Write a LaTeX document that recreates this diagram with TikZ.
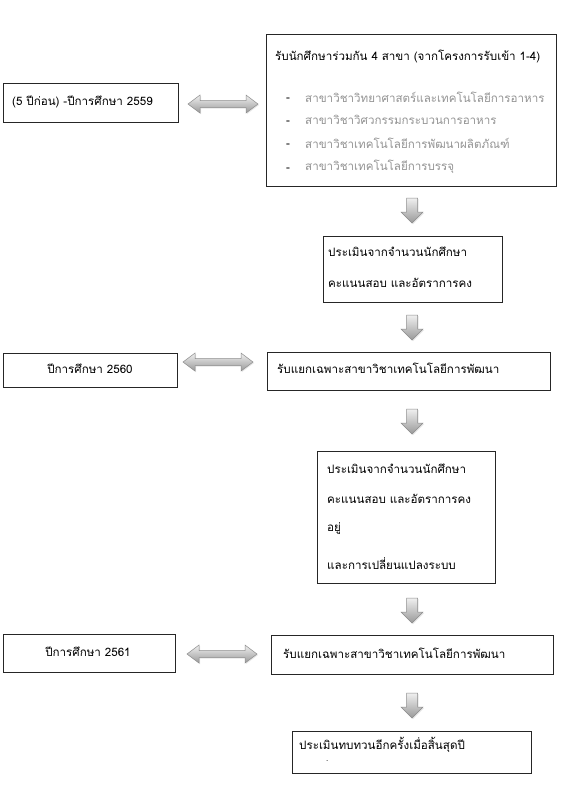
\documentclass[tikz,border=0pt]{standalone}
\usepackage{fontspec}
\newfontfamily\thai[Script=Thai]{Loma}
\usetikzlibrary{shadows}
\tikzset{
  box/.style={draw=black!85, line width=0.7pt, anchor=north west, inner sep=0pt},
  txt/.style={anchor=west, inner sep=0pt, font=\thai\fontsize{11.6}{14}\selectfont, text=black},
  item/.style={txt, text=black!42},
  dashtxt/.style={txt},
  blockarrow/.style={draw=black!45, line width=0.5pt, top color=black!6, bottom color=black!40,
     drop shadow={opacity=0.2, shadow xshift=1pt, shadow yshift=-1pt}},
  pics/downarr/.style={code={\path[blockarrow] (-5.5,0) -- (5.5,0) -- (5.5,14) -- (11,14) -- (0,25) -- (-11,14) -- (-5.5,14) -- cycle;}},
  pics/bothwayarr/.style={code={\path[blockarrow] (-35,0) -- (-23,-9) -- (-23,-3.5) -- (23,-3.5) -- (23,-9) -- (35,0) -- (23,9) -- (23,3.5) -- (-23,3.5) -- (-23,9) -- cycle;}}
}
\begin{document}
\begin{tikzpicture}[x=1pt,y=-1pt]
\useasboundingbox[fill=white] (0,0) rectangle (574,812);
% boxes
\node[box, minimum width=290, minimum height=152] (b1) at (266,34) {};
\node[box, minimum width=175, minimum height=39] (l1) at (3,83) {};
\node[box, minimum width=179, minimum height=66] (e1) at (323,236) {};
\node[box, minimum width=174, minimum height=34] (l2) at (3,353) {};
\node[box, minimum width=283, minimum height=38] (r2) at (267,352) {};
\node[box, minimum width=178, minimum height=132] (e2) at (317,451) {};
\node[box, minimum width=172, minimum height=38] (l3) at (3,634) {};
\node[box, minimum width=282, minimum height=39] (r3) at (271,635) {};
\node[box, minimum width=239, minimum height=42] (f) at (292,731) {};
% texts
\node[txt] (t1) at (275,56) {รับนักศึกษาร่วมกัน 4 สาขา (จากโครงการรับเข้า 1-4)};
\node[dashtxt] (d1) at (286,100) {-};
\node[dashtxt] (d2) at (286,123) {-};
\node[dashtxt] (d3) at (286,146) {-};
\node[dashtxt] (d4) at (286,170) {-};
\node[item] (i1) at (305,97) {สาขาวิชาวิทยาศาสตร์และเทคโนโลยีการอาหาร};
\node[item] (i2) at (305,120) {สาขาวิชาวิศวกรรมกระบวนการอาหาร};
\node[item] (i3) at (305,143) {สาขาวิชาเทคโนโลยีการพัฒนาผลิตภัณฑ์};
\node[item] (i4) at (305,167) {สาขาวิชาเทคโนโลยีการบรรจุ};
\node[txt] (tl1) at (12,102) {(5 ปีก่อน) -ปีการศึกษา 2559};
\node[txt] (te1a) at (328,252) {ประเมินจากจำนวนนักศึกษา};
\node[txt] (te1b) at (328,283) {คะแนนสอบ และอัตราการคง};
\node[txt, anchor=center] (tl2) at (90,369) {ปีการศึกษา 2560};
\node[txt] (tr2) at (277,368) {รับแยกเฉพาะสาขาวิชาเทคโนโลยีการพัฒนา};
\node[txt] (te2a) at (327,469) {ประเมินจากจำนวนนักศึกษา};
\node[txt] (te2b) at (327,499) {คะแนนสอบ และอัตราการคง};
\node[txt] (te2c) at (327,529) {อยู่};
\node[txt] (te2d) at (327,564) {และการเปลี่ยนแปลงระบบ};
\node[txt, anchor=center] (tl3) at (88,652) {ปีการศึกษา 2561};
\node[txt] (tr3) at (283,653) {รับแยกเฉพาะสาขาวิชาเทคโนโลยีการพัฒนา};
\node[txt] (tf) at (299,745) {ประเมินทบทวนอีกครั้งเมื่อสิ้นสุดปี};
\node[txt, font=\thai\fontsize{8}{9}\selectfont] (tfdot) at (326,761) {.};
% block arrows
\pic at (412,198) {downarr};
\pic at (412,315) {downarr};
\pic at (412,409) {downarr};
\pic at (412,598) {downarr};
\pic at (412,693) {downarr};
\pic at (223,104) {bothwayarr};
\pic at (218,362) {bothwayarr};
\pic at (222,654) {bothwayarr};
\end{tikzpicture}
\end{document}
